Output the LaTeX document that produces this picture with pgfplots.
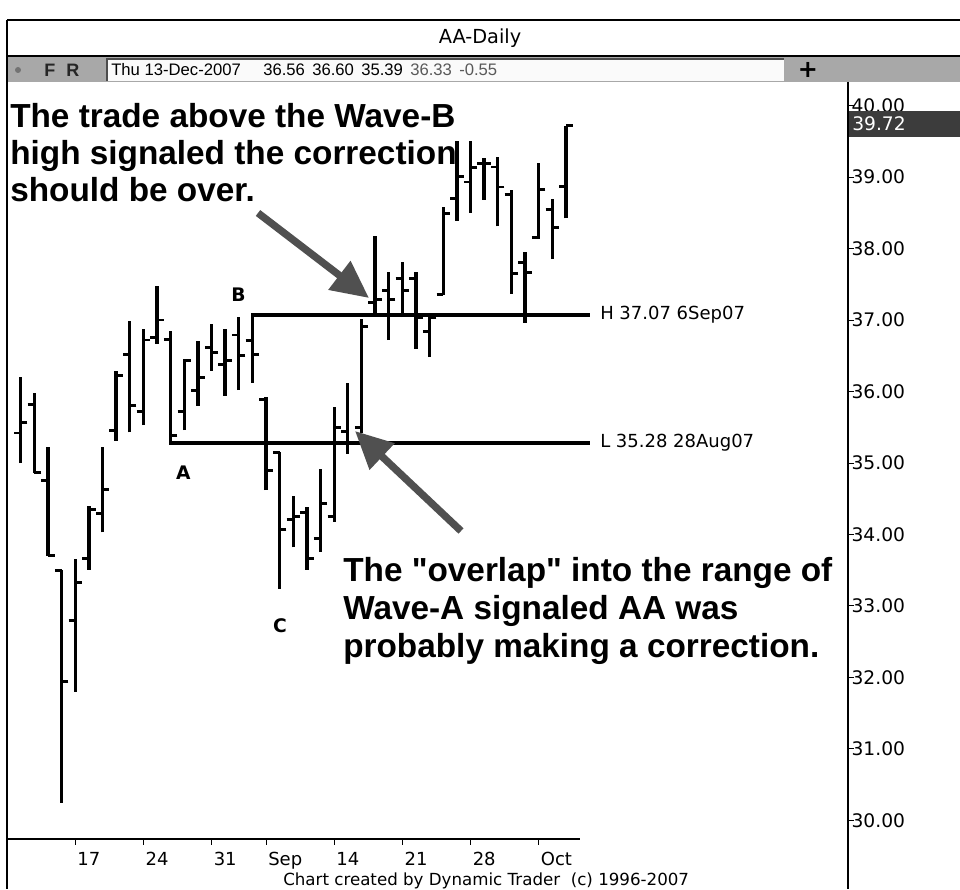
\documentclass[border=0pt]{standalone}
\usepackage{pgfplots}
\pgfplotsset{compat=1.18}
\usepackage{pgfplotstable}
\usepackage{fontspec}
\setmainfont{DejaVu Sans}
\newfontfamily\arialf{Liberation Sans}
\usetikzlibrary{arrows.meta}
\definecolor{tbgray}{HTML}{A8A8A8}
\definecolor{arrowgray}{HTML}{505050}
\definecolor{boxdark}{HTML}{3C3C3C}

\pgfdeclareplotmark{otick}{%
  \pgfpathmoveto{\pgfqpoint{-\pgfplotmarksize}{0pt}}%
  \pgfpathlineto{\pgfqpoint{0pt}{0pt}}%
  \pgfusepathqstroke}
\pgfdeclareplotmark{ctick}{%
  \pgfpathmoveto{\pgfqpoint{\pgfplotmarksize}{0pt}}%
  \pgfpathlineto{\pgfqpoint{0pt}{0pt}}%
  \pgfusepathqstroke}

\pgfplotstableread{
i O H L C
0 35.42 36.20 35.00 35.56
1 35.82 35.98 34.86 34.87
2 34.76 35.23 33.70 33.71
3 33.50 33.50 30.25 31.94
4 32.80 33.66 31.80 33.33
5 33.67 34.40 33.51 34.35
6 34.30 35.23 34.03 34.63
7 35.45 36.28 35.31 36.23
8 36.52 36.98 35.43 35.80
9 35.72 36.87 35.53 36.72
10 36.76 37.48 36.67 37.00
11 36.73 36.85 35.28 35.38
12 35.72 36.45 35.46 36.43
13 36.01 36.71 35.80 36.19
14 36.62 36.95 36.29 36.55
15 36.38 36.87 35.94 36.43
16 36.79 37.04 36.02 36.50
17 36.71 37.07 36.12 36.52
18 35.89 35.92 34.62 34.90
19 35.15 35.16 33.24 34.07
20 34.21 34.54 33.82 34.25
21 34.31 34.38 33.51 33.67
22 33.94 34.91 33.76 34.44
23 34.25 35.78 34.18 35.50
24 35.44 36.12 35.13 35.29
25 35.50 37.01 35.42 36.91
26 37.25 38.18 37.05 37.29
27 37.41 37.67 36.72 37.29
28 37.58 37.81 37.04 37.41
29 37.58 37.67 36.60 37.03
30 36.84 37.05 36.48 37.03
31 37.36 38.58 37.35 38.49
32 38.70 39.51 38.39 39.01
33 38.93 39.51 38.50 39.13
34 39.19 39.27 38.68 39.19
35 39.14 39.28 38.31 38.86
36 38.76 38.82 37.37 37.65
37 37.81 37.95 36.96 37.67
38 38.16 39.20 38.14 38.82
39 38.54 38.69 37.85 38.30
40 38.87 39.72 38.42 39.72
}\bars

\begin{document}
\begin{tikzpicture}
\useasboundingbox (0,0) rectangle (720pt,666.75pt);
\fill[white] (0,0) rectangle (720pt,666.75pt);
\begin{axis}[
  at={(6pt,37.5pt)}, anchor=south west,
  scale only axis, width=630pt, height=569.25pt,
  xmin=-0.932, xmax=60.697, ymin=29.741, ymax=40.357,
  axis x line*=bottom, axis y line*=right,
  axis line style={draw=none},
  tick align=outside, major tick length=4.5pt,
  tick style={black, line width=0.75pt},
  xtick={4,9,14,18,23,28,33,38},
  xticklabels={},
  ytick={30,31,...,40},
  /pgf/number format/assume math mode=true,
  yticklabel={\pgfmathprintnumber[fixed,fixed zerofill,precision=2]{\tick}},
  yticklabel style={font=\fontsize{14}{16}\selectfont, anchor=west, inner sep=0pt, xshift=-2pt},
  clip=false,
]
% vertical high-low lines
\addplot[draw=none, mark=none, forget plot,
  error bars/.cd, y dir=plus, y explicit, error mark=none,
  error bar style={draw=black, line width=2.5pt}]
  table[x=i, y=L, y error expr=\thisrow{H}-\thisrow{L}] {\bars};
% open ticks (left)
\addplot[only marks, mark=otick, mark size=5pt, mark options={draw=black, line width=2.2pt}]
  table[x=i, y=O] {\bars};
% close ticks (right)
\addplot[only marks, mark=ctick, mark size=5pt, mark options={draw=black, line width=2.2pt}]
  table[x=i, y=C] {\bars};
% high / low reference lines
\addplot[black, line width=2.8pt, mark=none] coordinates {(16.9,37.07) (41.77,37.07)};
\addplot[black, line width=2.8pt, mark=none] coordinates {(10.9,35.28) (41.77,35.28)};
\node[anchor=west, inner sep=0pt, font=\fontsize{13.5}{16}\selectfont] at (axis cs:42.5,37.07) {H 37.07 6Sep07};
\node[anchor=west, inner sep=0pt, font=\fontsize{13.5}{16}\selectfont] at (axis cs:42.5,35.28) {L 35.28 28Aug07};
% wave labels
\node[font=\bfseries\fontsize{14}{16}\selectfont] at (axis cs:11.93,34.86) {A};
\node[font=\bfseries\fontsize{14}{16}\selectfont] at (axis cs:15.97,37.35) {B};
\node[font=\bfseries\fontsize{14}{16}\selectfont] at (axis cs:19.03,32.73) {C};
% x tick labels
\foreach \xx/\lab in {4/17,9/24,14/31,18/Sep,23/14,28/21,33/28,38/Oct}{
  \edef\tmp{\noexpand\node[anchor=north west, inner sep=0pt, xshift=1.5pt, yshift=-10pt, font=\noexpand\fontsize{13.5}{16}\noexpand\selectfont] at (axis cs:\xx,29.741) {\lab};}
  \tmp
}
\end{axis}
\begin{scope}[x=0.75pt, y=-0.75pt, shift={(0pt,666.75pt)}]
% frame and title
\draw[line width=1.1pt] (7,20) -- (960,20);
\draw[line width=1.1pt] (7,20) -- (7,889);
\node[font=\fontsize{14.5}{16}\selectfont] at (480,38) {AA-Daily};
% toolbar
\draw[line width=1.4pt] (7,56) -- (960,56);
\fill[tbgray] (8,57) rectangle (960,82);
\fill[black!2] (107,59) rectangle (784,81);
\draw[line width=0.9pt, black!70] (107,81) -- (107,59) -- (784,59);
\fill[black!55] (18,70) circle (3);
\node[anchor=west, inner sep=0pt, font=\arialf\bfseries\fontsize{13.5}{14}\selectfont, text=black!85] at (44,70) {F};
\node[anchor=west, inner sep=0pt, font=\arialf\bfseries\fontsize{13.5}{14}\selectfont, text=black!85] at (66,70) {R};
\node[anchor=west, inner sep=0pt, font=\arialf\fontsize{12.5}{14}\selectfont] at (111,70) {Thu 13-Dec-2007};
\node[anchor=west, inner sep=0pt, font=\arialf\fontsize{12.5}{14}\selectfont] at (263,70) {36.56};
\node[anchor=west, inner sep=0pt, font=\arialf\fontsize{12.5}{14}\selectfont] at (312,70) {36.60};
\node[anchor=west, inner sep=0pt, font=\arialf\fontsize{12.5}{14}\selectfont] at (361,70) {35.39};
\node[anchor=west, inner sep=0pt, font=\arialf\fontsize{12.5}{14}\selectfont, text=black!65] at (410,70) {36.33};
\node[anchor=west, inner sep=0pt, font=\arialf\fontsize{12.5}{14}\selectfont, text=black!65] at (459,70) {-0.55};
\node[font=\bfseries\fontsize{18}{18}\selectfont] at (808,70) {+};
% axis lines
\draw[line width=1pt] (848,82) -- (848,889);
\draw[line width=1pt] (8,839) -- (580,839);
% last price box
\fill[boxdark] (849,111) rectangle (960,137);
\node[anchor=west, inner sep=0pt, text=white, font=\fontsize{14}{16}\selectfont] at (852,124) {39.72};
% copyright
\node[anchor=west, inner sep=0pt, font=\fontsize{12.5}{14}\selectfont] at (283,881) {Chart created by Dynamic Trader\ \ (c) 1996-2007};
% annotations
\node[anchor=base west, inner sep=0pt, font=\arialf\bfseries\fontsize{25}{28}\selectfont] at (10,128) {The trade above the Wave-B};
\node[anchor=base west, inner sep=0pt, font=\arialf\bfseries\fontsize{25}{28}\selectfont] at (10,165) {high signaled the correction};
\node[anchor=base west, inner sep=0pt, font=\arialf\bfseries\fontsize{25}{28}\selectfont] at (10,202) {should be over.};
\node[anchor=base west, inner sep=0pt, font=\arialf\bfseries\fontsize{25}{28}\selectfont] at (343,582) {The "overlap" into the range of};
\node[anchor=base west, inner sep=0pt, font=\arialf\bfseries\fontsize{25}{28}\selectfont] at (343,620) {Wave-A signaled AA was};
\node[anchor=base west, inner sep=0pt, font=\arialf\bfseries\fontsize{25}{28}\selectfont] at (343,658) {probably making a correction.};
% arrows
\draw[arrowgray, line width=5.5pt, -{Triangle[length=28pt,width=26pt]}] (258,213) -- (369,298);
\draw[arrowgray, line width=5.5pt, -{Triangle[length=28pt,width=26pt]}] (461,531) -- (355,431);
\end{scope}
\end{tikzpicture}
\end{document}
